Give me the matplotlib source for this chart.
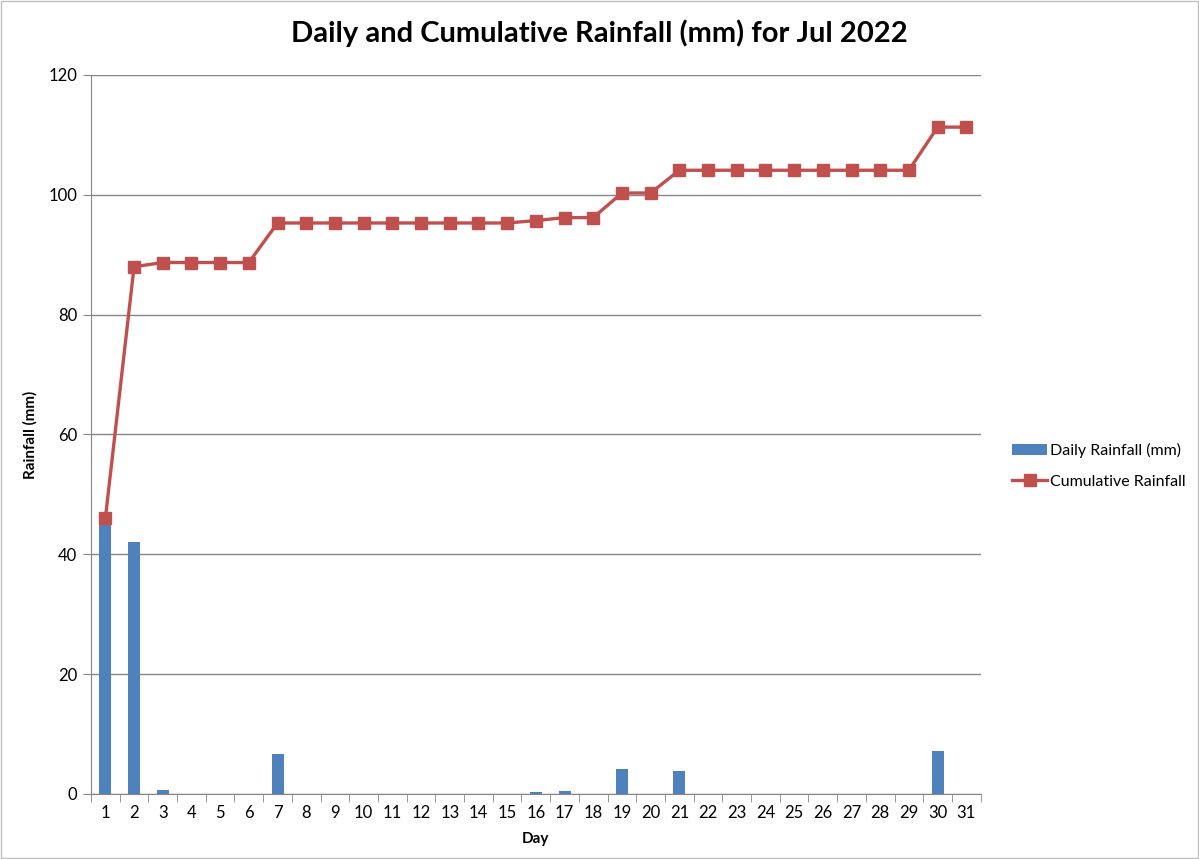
import numpy as np
import matplotlib.pyplot as plt
from matplotlib.patches import Rectangle

# rainfall for Jul 2022
days = list(range(1, 32))
daily_rain = [46.0, 42.0, 0.7, 0, 0, 0, 6.6, 0, 0, 0, 0, 0, 0, 0, 0,
              0.4, 0.5, 0, 4.1, 0, 3.8, 0, 0, 0, 0, 0, 0, 0, 0, 7.2, 0]
cum_rain = [46.0, 88.0, 88.7, 88.7, 88.7, 88.7, 95.3, 95.3, 95.3, 95.3, 95.3,
            95.3, 95.3, 95.3, 95.3, 95.7, 96.2, 96.2, 100.3, 100.3, 104.1,
            104.1, 104.1, 104.1, 104.1, 104.1, 104.1, 104.1, 104.1, 111.3, 111.3]

plt.rcParams['font.family'] = ['Lato', 'DejaVu Sans']

fig = plt.figure(figsize=(11.99, 8.59), dpi=100)
ax = fig.add_axes([0.0759, 0.0757, 0.742, 0.837])

bars = ax.bar(days, daily_rain, width=0.42, color='#4F81BD', label='Daily Rainfall (mm)', zorder=2)
line, = ax.plot(days, cum_rain, color='#C0504D', lw=2.4, marker='s', markersize=9,
                label='Cumulative Rainfall', zorder=3)

ax.set_xlim(0.5, 31.5)
ax.set_ylim(0, 120)
ax.set_yticks(range(0, 121, 20))
ax.set_xticks(days)
ax.set_xticks(np.arange(0.5, 32, 1), minor=True)
ax.tick_params(axis='x', which='major', length=0, labelsize=12, pad=8)
ax.tick_params(axis='x', which='minor', length=6, color='#868686', direction='out')
ax.tick_params(axis='y', length=6, color='#868686', labelsize=12, pad=4)
ax.yaxis.grid(True, color='#868686', lw=1, zorder=0)
ax.set_axisbelow(True)
for s in ['top', 'right']:
    ax.spines[s].set_visible(False)
for s in ['left', 'bottom']:
    ax.spines[s].set_color('#868686')

ax.set_xlabel('Day', fontsize=11, fontweight='bold', labelpad=8)
ax.set_ylabel('Rainfall (mm)', fontsize=11, fontweight='bold', labelpad=8)
fig.suptitle('Daily and Cumulative Rainfall (mm) for Jul 2022', x=0.5, y=0.977,
             fontsize=21, fontweight='bold')

fig.legend([bars, line], ['Daily Rainfall (mm)', 'Cumulative Rainfall'],
           loc='center left', bbox_to_anchor=(0.832, 0.4575), frameon=False,
           fontsize=11.5, handlelength=2.2, labelspacing=1.0, handletextpad=0.2)

fig.patches.append(Rectangle((0.001, 0.001), 0.998, 0.998, transform=fig.transFigure,
                             fill=False, edgecolor='#BFBFBF', lw=1))

fig.savefig('out.png', dpi=100)
